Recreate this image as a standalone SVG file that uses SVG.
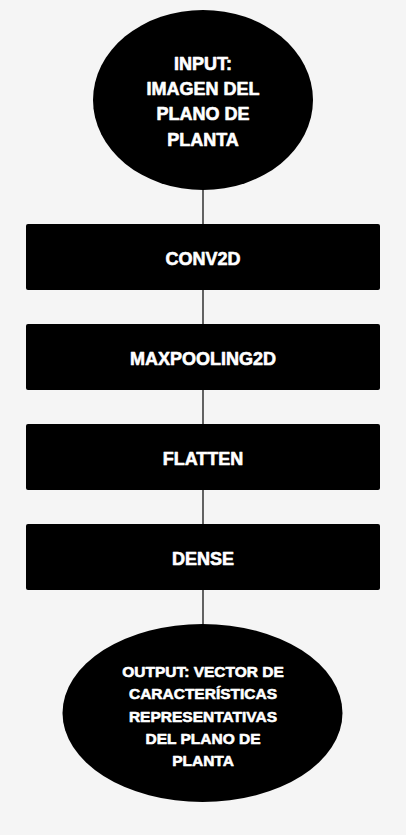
<svg xmlns="http://www.w3.org/2000/svg" width="406" height="835" viewBox="0 0 406 835">
<style>
.n{fill:#000}
.t{fill:#fff;stroke:#fff;stroke-width:0.6;stroke-linejoin:round;font-family:"Liberation Sans",Arial,sans-serif;font-weight:bold;font-size:18px;text-anchor:middle}
.s{font-size:15.5px}
.c{stroke:#000;stroke-width:1.2;fill:none}
</style>
<rect width="406" height="835" fill="#f5f5f5"/>
<g id="connectors">
<line class="c" x1="203" y1="189" x2="203" y2="225"/>
<line class="c" x1="203" y1="290" x2="203" y2="325"/>
<line class="c" x1="203" y1="390" x2="203" y2="425"/>
<line class="c" x1="203" y1="490" x2="203" y2="525"/>
<line class="c" x1="203" y1="590" x2="203" y2="625"/>
</g>
<g id="input">
<ellipse class="n" cx="203" cy="100" rx="110" ry="90"/>
<text class="t"><tspan x="203" y="70">INPUT:</tspan><tspan x="203" y="95">IMAGEN DEL</tspan><tspan x="203" y="120">PLANO DE</tspan><tspan x="203" y="146">PLANTA</tspan></text>
</g>
<g id="conv2d">
<rect class="n" x="26" y="224" width="354" height="66" rx="2"/>
<text class="t" x="203" y="265">CONV2D</text>
</g>
<g id="maxpooling2d">
<rect class="n" x="26" y="324" width="354" height="66" rx="2"/>
<text class="t" x="203" y="365">MAXPOOLING2D</text>
</g>
<g id="flatten">
<rect class="n" x="26" y="424" width="354" height="66" rx="2"/>
<text class="t" x="203" y="465">FLATTEN</text>
</g>
<g id="dense">
<rect class="n" x="26" y="524" width="354" height="66" rx="2"/>
<text class="t" x="203" y="565">DENSE</text>
</g>
<g id="output">
<ellipse class="n" cx="202.5" cy="713" rx="140" ry="89"/>
<text class="t s"><tspan x="203" y="677">OUTPUT: VECTOR DE</tspan><tspan x="203" y="699">CARACTERÍSTICAS</tspan><tspan x="203" y="721.5">REPRESENTATIVAS</tspan><tspan x="203" y="744">DEL PLANO DE</tspan><tspan x="203" y="765.5">PLANTA</tspan></text>
</g>
</svg>
